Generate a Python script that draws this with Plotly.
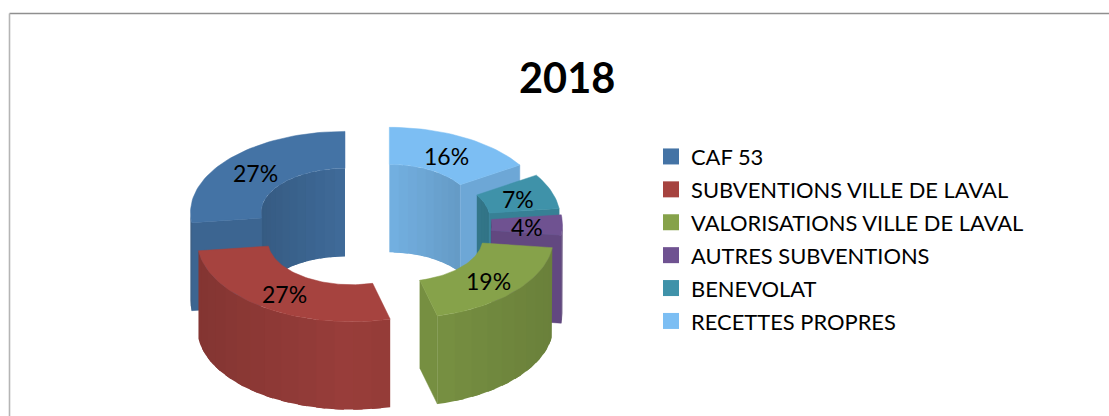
import math
import plotly.graph_objects as go

# ---- data ----
categories = ["CAF 53", "SUBVENTIONS VILLE DE LAVAL", "VALORISATIONS VILLE DE LAVAL",
              "AUTRES SUBVENTIONS", "BENEVOLAT", "RECETTES PROPRES"]
values = [27, 27, 19, 4, 7, 16]
title_text = "2018"

# ---- style ----
colors = ["#4473A5", "#A6433F", "#86A24A", "#6F5291", "#3F92A9", "#7CBEF3"]
FONT = "Lato"
CX, CY = 372, 225      # donut centre, px
R, r = 154.5, 84       # outer / inner radius, px
K = 0.525              # vertical squash
H = 88                 # extrusion depth, px
PULL = 36              # explosion distance, px
DRAW_ORDER = [0, 5, 4, 3, 2, 1]  # back to front


def shade(hexcol, f):
    c = [int(hexcol[i:i + 2], 16) for i in (1, 3, 5)]
    c = [v * f for v in c]
    return "rgb(%d,%d,%d)" % tuple(round(v) for v in c)


fig = go.Figure()


def poly(xs, ys, col, lw=0.0):
    fig.add_trace(go.Scatter(x=list(xs) + [xs[0]], y=list(ys) + [ys[0]], mode="lines",
                             fill="toself", fillcolor=col,
                             line=dict(color=col, width=lw),
                             hoverinfo="skip", showlegend=False))


def arc_angles(a, b, step=3.0):
    n = max(1, int(math.ceil((b - a) / step)))
    return [a + (b - a) * i / n for i in range(n + 1)]


# angular extents: counter-clockwise from twelve o'clock
total = sum(values)
spans = []
acc = 90.0
for v in values:
    spans.append((acc, acc + v / total * 360.0))
    acc = spans[-1][1]

labels = []
for idx in DRAW_ORDER:
    a0, a1 = spans[idx]
    mid = math.radians((a0 + a1) / 2)
    cx = CX + PULL * math.cos(mid)
    cy = CY - PULL * K * math.sin(mid)
    col = colors[idx]

    def P(rad, deg, down=0):
        t = math.radians(deg)
        return cx + rad * math.cos(t), cy - rad * K * math.sin(t) + down

    def wall(rad, lo, hi, base, amp, step):
        angs = arc_angles(lo, hi, step)
        for u, w in zip(angs, angs[1:]):
            w2 = min(hi, w + step * 0.5)  # overlap the next strip, so no seam shows
            m = math.radians((u + w) / 2)
            f = base - amp * abs(math.cos(m))
            pts = []
            for a in arc_angles(u, w2, 1.5):
                pts.append(P(rad, a))
            for a in reversed(arc_angles(u, w2, 1.5)):
                pts.append(P(rad, a, H))
            poly([p[0] for p in pts], [p[1] for p in pts], shade(col, f))

    # inner wall: the part of the hole that faces the viewer is the back half
    for lo, hi in ((a0, a1), (a0 - 360, a1 - 360), (a0 + 360, a1 + 360)):
        lo2, hi2 = max(lo, 0), min(hi, 180)
        if lo2 < hi2:
            wall(r, lo2, hi2, 0.93, 0.14, 7)

    # cut faces that turn towards the viewer
    for ang, sign in ((a0, -1), (a1, 1)):
        t = math.radians(ang)
        if sign * math.cos(t) < -1e-6:
            i1, o1 = P(r, ang), P(R, ang)
            i2, o2 = P(r, ang, H), P(R, ang, H)
            poly([i1[0], o1[0], o2[0], i2[0]], [i1[1], o1[1], o2[1], i2[1]], shade(col, 0.88), 0.5)

    # outer wall: front half
    for lo, hi in ((a0, a1), (a0 - 360, a1 - 360), (a0 + 360, a1 + 360)):
        lo2, hi2 = max(lo, 180), min(hi, 360)
        if lo2 < hi2:
            wall(R, lo2, hi2, 0.92, 0.13, 7)

    # top face
    angs = arc_angles(a0, a1, 2)
    pts = [P(R, a) for a in angs] + [P(r, a) for a in reversed(angs)]
    poly([p[0] for p in pts], [p[1] for p in pts], col, 0.5)

    lab = P((R + r) / 2, (a0 + a1) / 2)
    labels.append((lab[0], lab[1] + 2, "%d%%" % values[idx]))

for x, y, t in labels:
    fig.add_annotation(x=x, y=y, text=t, showarrow=False, xref="x", yref="y",
                       font=dict(family=FONT, size=23, color="#000000"))

# legend entries
for name, col in zip(categories, colors):
    fig.add_trace(go.Scatter(x=[None], y=[None], mode="markers",
                             name="<span style='font-size:21.9px'>" + name + "</span>",
                             marker=dict(symbol="square", size=16, color=col)))

fig.add_annotation(x=567, y=77, text="<b>" + title_text + "</b>", showarrow=False, xref="x", yref="y",
                   font=dict(family=FONT, size=41.5, color="#000000"))

fig.update_layout(
    width=1109, height=416, margin=dict(l=0, r=0, t=0, b=0),
    paper_bgcolor="white", plot_bgcolor="white",
    xaxis=dict(range=[0, 1109], visible=False, fixedrange=True),
    yaxis=dict(range=[416, 0], visible=False, fixedrange=True),
    legend=dict(x=651 / 1109, y=1 - 135 / 416, xanchor="left", yanchor="top",
                font=dict(family=FONT, size=23, color="#000000"),
                bgcolor="rgba(0,0,0,0)", itemsizing="trace"),
    shapes=[
        dict(type="line", xref="x", yref="y", x0=9.5, x1=1109, y0=13.5, y1=13.5,
             line=dict(color="#8f8f8f", width=1.4)),
        dict(type="line", xref="x", yref="y", x0=9.5, x1=9.5, y0=13.5, y1=416,
             line=dict(color="#b5b5b5", width=1.6)),
    ],
)
fig.write_html("out.html", config={"displayModeBar": False},
               post_script="document.body.style.margin='0';document.body.style.overflow='hidden';")
